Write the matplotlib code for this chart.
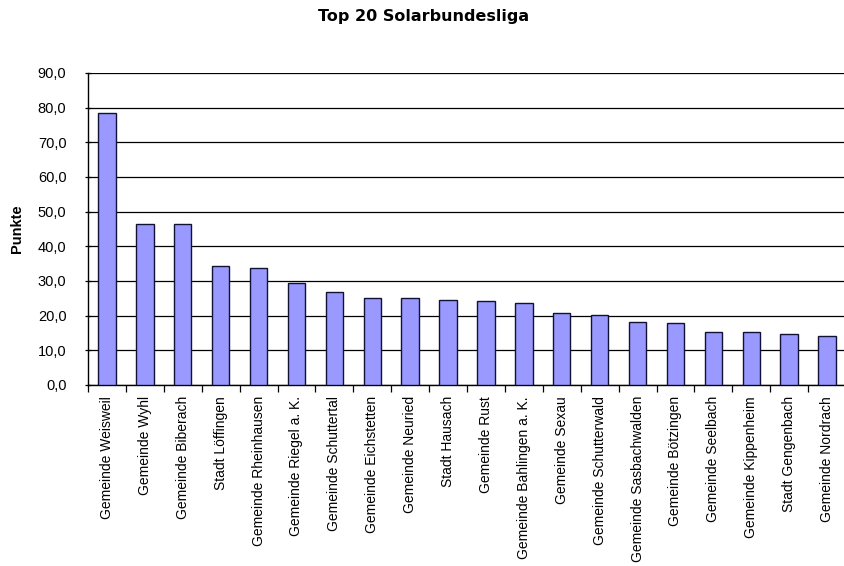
import matplotlib
matplotlib.use("Agg")
import matplotlib.pyplot as plt
import numpy as np

plt.rcParams['font.family'] = ['Liberation Sans', 'DejaVu Sans']

communities = [
    "Gemeinde Weisweil", "Gemeinde Wyhl", "Gemeinde Biberach", "Stadt Löffingen",
    "Gemeinde Rheinhausen", "Gemeinde Riegel a. K.", "Gemeinde Schuttertal",
    "Gemeinde Eichstetten", "Gemeinde Neuried", "Stadt Hausach", "Gemeinde Rust",
    "Gemeinde Bahlingen a. K.", "Gemeinde Sexau", "Gemeinde Schutterwald",
    "Gemeinde Sasbachwalden", "Gemeinde Bötzingen", "Gemeinde Seelbach",
    "Gemeinde Kippenheim", "Stadt Gengenbach", "Gemeinde Nordrach",
]
points = [78.5, 46.4, 46.4, 34.4, 33.7, 29.3, 26.7, 25.1, 25.1, 24.4,
          24.3, 23.7, 20.9, 20.3, 18.3, 18.0, 15.4, 15.2, 14.8, 14.1]
y_ticks = [0, 10, 20, 30, 40, 50, 60, 70, 80, 90]
y_tick_labels = ["0,0", "10,0", "20,0", "30,0", "40,0", "50,0", "60,0", "70,0", "80,0", "90,0"]

W, H = 844, 566
fig = plt.figure(figsize=(W / 100, H / 100), dpi=100)
fig.patch.set_facecolor("white")
ax = fig.add_axes([88 / W, (H - 385) / H, 758 / W, 312 / H])

x = np.arange(len(communities))
ax.bar(x, points, width=0.46, color="#9999ff", edgecolor="#111133", linewidth=1.0, zorder=3)

ax.set_xlim(-0.5, len(communities) - 0.5)
ax.set_ylim(0, 90)
ax.set_yticks(y_ticks)
ax.set_yticklabels(y_tick_labels, fontsize=10.5, family=["Liberation Sans"])
ax.yaxis.grid(True, color="black", linewidth=0.9, zorder=0)
ax.set_axisbelow(True)

ax.set_xticks(x)
ax.set_xticklabels(communities, rotation=90, fontsize=10, va="top", ha="center",
                   family=["Liberation Sans"])
ax.tick_params(axis="x", which="major", length=0, pad=8)
ax.set_xticks(np.arange(len(communities) + 1) - 0.5, minor=True)
ax.tick_params(axis="x", which="minor", length=5, width=0.9, color="black", direction="out")
ax.tick_params(axis="y", length=5, width=0.9, color="black", direction="inout", pad=13)

for side in ("top", "right"):
    ax.spines[side].set_visible(False)
for side in ("left", "bottom"):
    ax.spines[side].set_color("black")
    ax.spines[side].set_linewidth(1.0)

ax.set_ylabel("Punkte", fontsize=10.5, fontweight="bold", family=["Liberation Sans"])
ax.yaxis.set_label_coords(-(88 - 24) / 758, 0.5)
fig.text(424 / W, 1 - 17 / H, "Top 20 Solarbundesliga", ha="center", va="center",
         fontsize=11.5, fontweight="bold", family=["DejaVu Sans"])

fig.savefig("out.png", dpi=100)
